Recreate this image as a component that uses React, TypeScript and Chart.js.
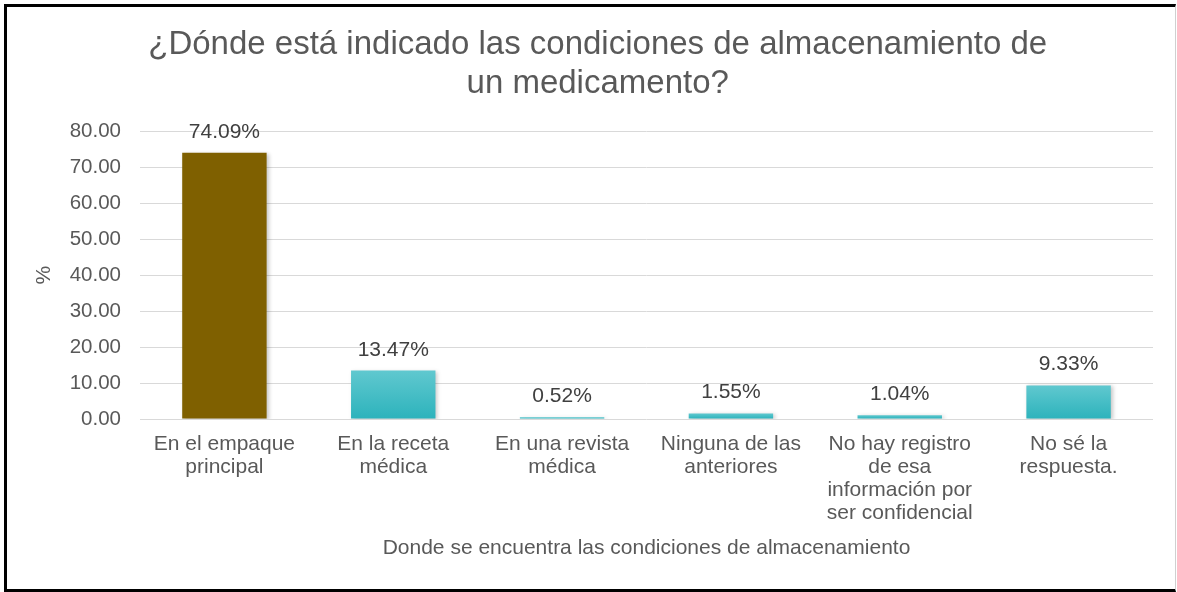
import React, { useEffect, useRef } from "react";
import { Chart, registerables } from "chart.js";

Chart.register(...registerables);

const titleLines = [
  "¿Dónde está indicado las condiciones de almacenamiento de",
  "un medicamento?",
];
const categories = [
  ["En el empaque", "principal"],
  ["En la receta", "médica"],
  ["En una revista", "médica"],
  ["Ninguna de las", "anteriores"],
  ["No hay registro", "de esa", "información por", "ser confidencial"],
  ["No sé la", "respuesta."],
];
const values = [74.09, 13.47, 0.52, 1.55, 1.04, 9.33];
const barKinds = ["gold", "teal", "teal", "teal", "teal", "teal"];
const yAxisTitle = "%";
const xAxisTitle = "Donde se encuentra las condiciones de almacenamiento";
const yMax = 80;
const yStep = 10;

const FONT = "'Liberation Sans', Arial, sans-serif";
const TEXT = "#595959";
const GOLD = "#7F6000";
const TEAL = "#2EB4BD";

const barStylePlugin = {
  id: "barStyle",
  beforeDatasetsDraw(chart: any) {
    const ctx = chart.ctx;
    const meta = chart.getDatasetMeta(0);
    meta.data.forEach((el: any, i: number) => {
      if (barKinds[i] === "gold") {
        el.options.backgroundColor = GOLD;
      } else {
        const top = Math.min(el.y, el.base - 1);
        const g = ctx.createLinearGradient(0, top, 0, el.base);
        g.addColorStop(0, "#60C8CF");
        g.addColorStop(1, "#2DB3BC");
        el.options.backgroundColor = g;
      }
    });
  },
  beforeDatasetDraw(chart: any) {
    const ctx = chart.ctx;
    ctx.save();
    ctx.shadowColor = "rgba(0,0,0,0.22)";
    ctx.shadowBlur = 4;
    ctx.shadowOffsetX = 2;
    ctx.shadowOffsetY = 1;
  },
  afterDatasetDraw(chart: any) {
    chart.ctx.restore();
  },
};

const dataLabelPlugin = {
  id: "dataLabels",
  afterDatasetsDraw(chart: any) {
    const ctx = chart.ctx;
    const meta = chart.getDatasetMeta(0);
    ctx.save();
    ctx.font = `21px ${FONT}`;
    ctx.fillStyle = "#404040";
    ctx.textAlign = "center";
    ctx.textBaseline = "alphabetic";
    meta.data.forEach((el: any, i: number) => {
      ctx.fillText(`${values[i].toFixed(2)}%`, el.x, el.y - 15);
    });
    ctx.restore();
  },
};

export default function App() {
  const ref = useRef<HTMLCanvasElement>(null);
  useEffect(() => {
    if (!ref.current) return;
    const chart = new Chart(ref.current, {
      type: "bar",
      data: {
        labels: categories,
        datasets: [
          {
            data: values,
            backgroundColor: barKinds.map((k) => (k === "gold" ? GOLD : TEAL)),
            borderWidth: 0,
            barPercentage: 0.5,
            categoryPercentage: 1,
          },
        ],
      },
      options: {
        responsive: false,
        animation: false,
        devicePixelRatio: 1,
        layout: { padding: { left: 42.4, right: 24, top: 0, bottom: 30.7 } },
        plugins: {
          legend: { display: false },
          tooltip: { enabled: false },
          title: {
            display: true,
            text: titleLines,
            color: TEXT,
            font: { family: FONT, size: 33, weight: "normal", lineHeight: 1.17 },
            padding: { top: 26, bottom: 28.2 },
          },
        },
        scales: {
          x: {
            grid: { display: false },
            border: { display: false },
            afterFit: (scale: any) => {
              scale.height = 142.3;
            },
            ticks: {
              color: TEXT,
              font: { family: FONT, size: 21, lineHeight: 1.1 },
              padding: 5.85,
              maxRotation: 0,
              autoSkip: false,
            },
            title: {
              display: true,
              text: xAxisTitle,
              color: TEXT,
              font: { family: FONT, size: 21, lineHeight: 1.2 },
              padding: { top: 0, bottom: 0 },
            },
          },
          y: {
            min: 0,
            max: yMax,
            afterFit: (scale: any) => {
              scale.width = 97.6;
            },
            grid: { color: "#D9D9D9", lineWidth: 1, drawTicks: false },
            border: { display: false },
            ticks: {
              stepSize: yStep,
              color: TEXT,
              font: { family: FONT, size: 20.5 },
              padding: 19,
              callback: (v: any) => Number(v).toFixed(2),
            },
            title: {
              display: true,
              text: yAxisTitle,
              color: TEXT,
              font: { family: FONT, size: 21, lineHeight: 1.2 },
              padding: { top: -11, bottom: 0 },
            },
          },
        },
      },
      plugins: [barStylePlugin, dataLabelPlugin],
    });
    return () => chart.destroy();
  }, []);

  return (
    <div
      style={{
        position: "absolute",
        left: 0,
        top: 0,
        width: 1177,
        height: 592,
        overflow: "hidden",
        background: "#fff",
      }}
    >
      <div
        style={{
          position: "absolute",
          left: 4,
          top: 4,
          width: 1172,
          height: 588,
          boxSizing: "border-box",
          borderLeft: "3px solid #000",
          borderTop: "3px solid #000",
          borderBottom: "3px solid #000",
          borderRight: "1px solid #D0D0D0",
        }}
      />
      <canvas
        ref={ref}
        width={1177}
        height={592}
        style={{ position: "absolute", left: 0, top: 0, width: 1177, height: 592 }}
      />
    </div>
  );
}
